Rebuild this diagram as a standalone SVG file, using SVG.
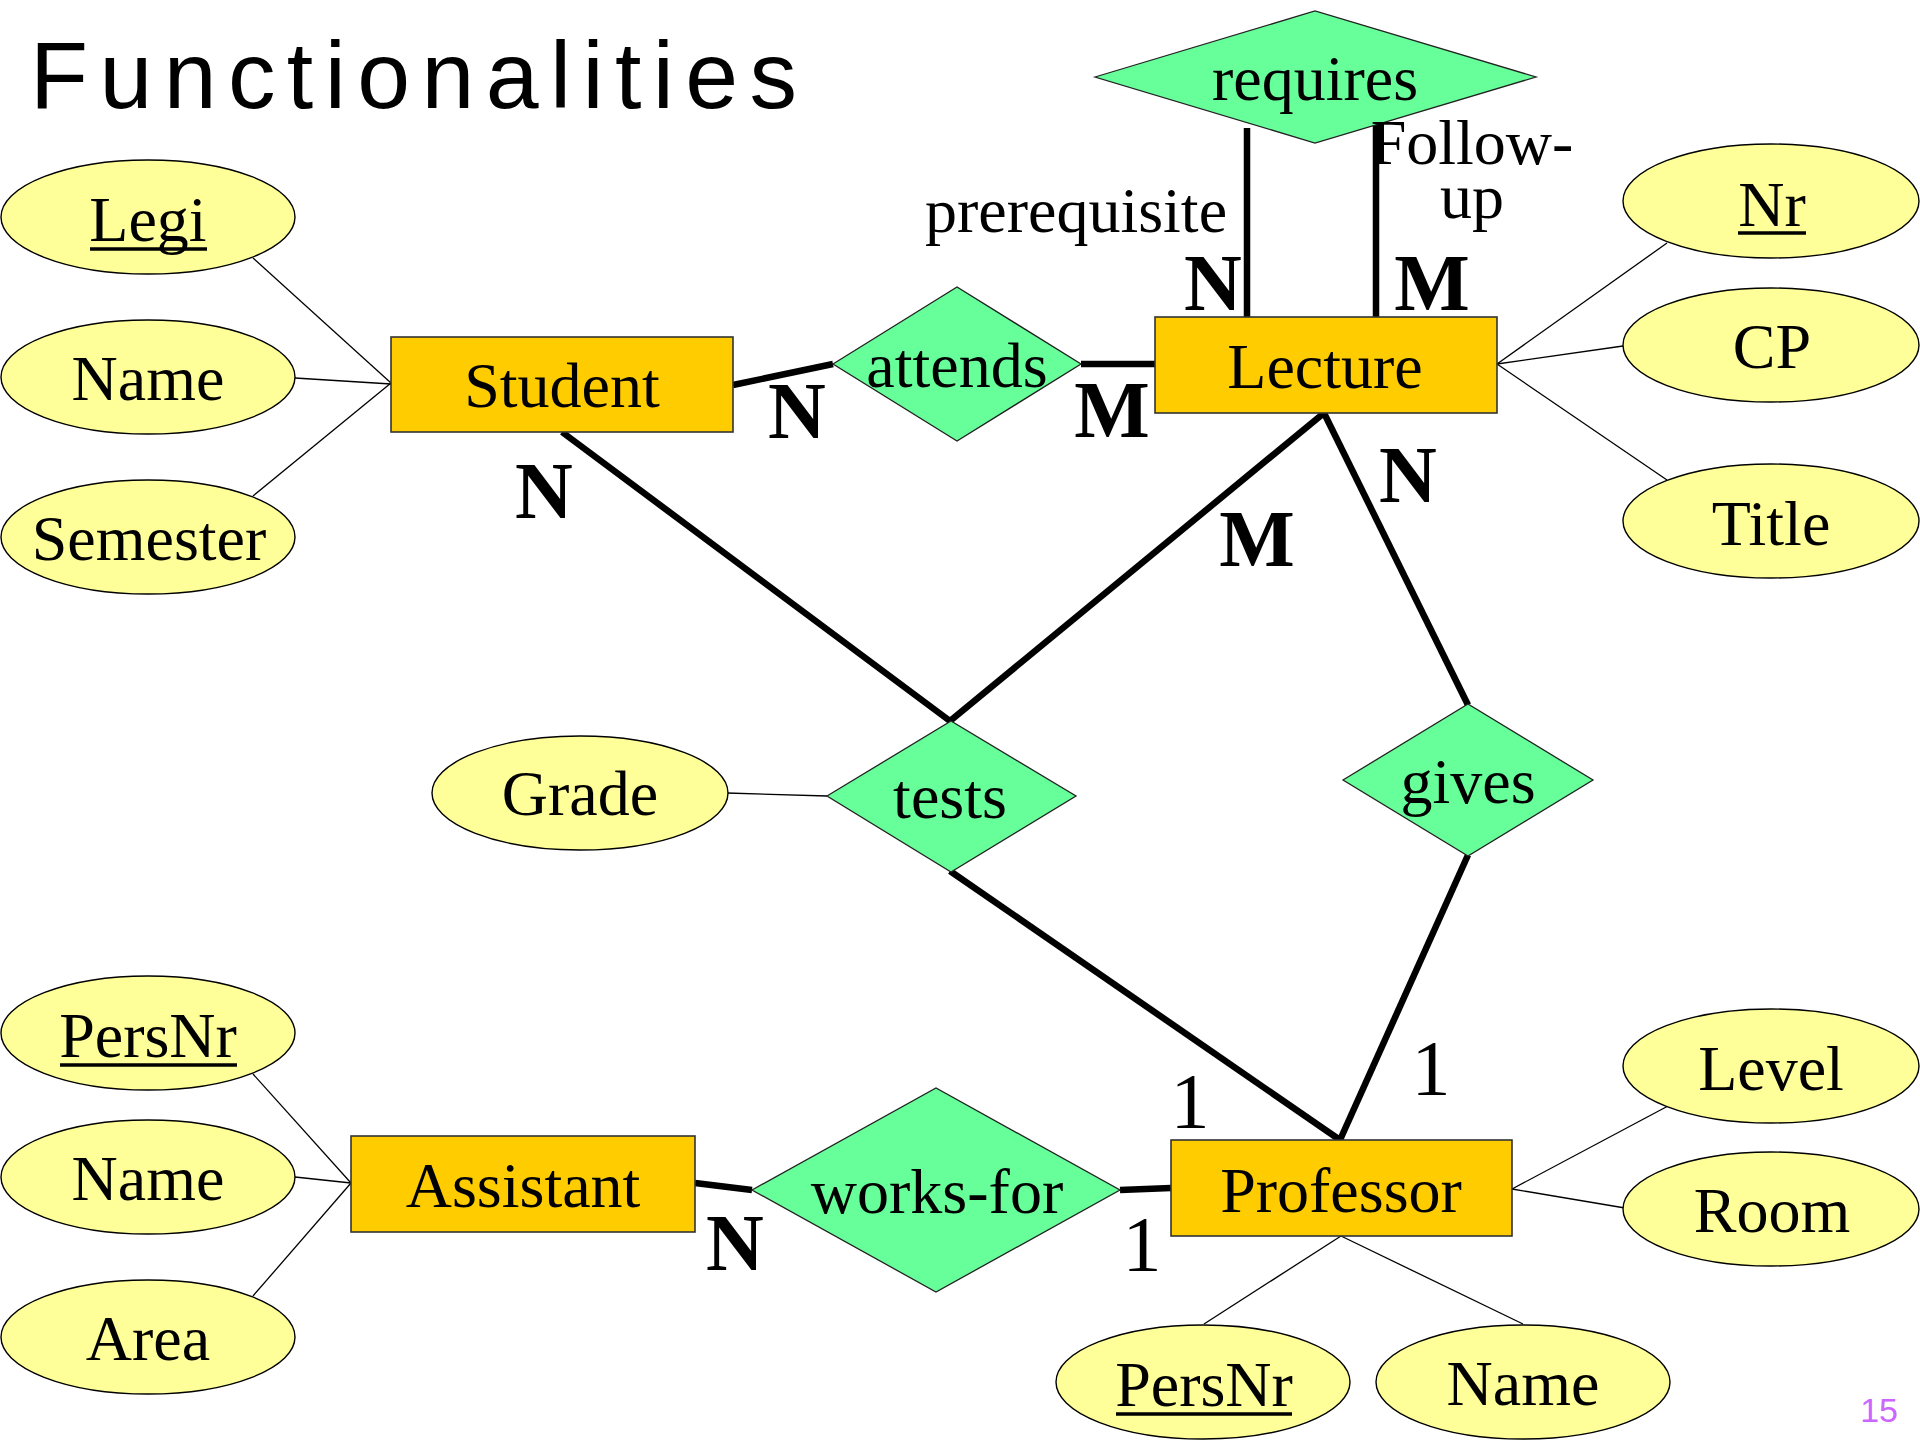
<svg xmlns="http://www.w3.org/2000/svg" width="1920" height="1440" viewBox="0 0 1920 1440">
<style>
.ent{fill:#FFCC00;stroke:#333;stroke-width:1.6}
.att{fill:#FFFF99;stroke:#000;stroke-width:1.4}
.rel{fill:#66FF99;stroke:#222;stroke-width:1.3}
.t{font-family:"Liberation Serif","Times New Roman",serif;font-size:64px;fill:#000;text-anchor:middle}
.c{font-family:"Liberation Serif","Times New Roman",serif;font-size:80px;font-weight:bold;fill:#000;text-anchor:middle}
.one{font-family:"Liberation Serif","Times New Roman",serif;font-size:78px;fill:#000;text-anchor:middle}
.thin{stroke:#000;stroke-width:1.3;fill:none}
.thick{stroke:#000;stroke-width:6.5;fill:none}
.ul{stroke:#000;stroke-width:3.5}
</style>
<rect width="1920" height="1440" fill="#fff"/>
<text x="30" y="108" font-family="Liberation Sans, Arial, sans-serif" font-size="95" textLength="767" lengthAdjust="spacing" fill="#000">Functionalities</text>

<g id="connectors">
  <line class="thin" x1="253" y1="258" x2="391" y2="383"/>
  <line class="thin" x1="295" y1="378" x2="391" y2="384"/>
  <line class="thin" x1="253" y1="496" x2="391" y2="383"/>
  <line class="thin" x1="1497" y1="364" x2="1667" y2="243"/>
  <line class="thin" x1="1497" y1="364" x2="1623" y2="346"/>
  <line class="thin" x1="1497" y1="364" x2="1667" y2="480"/>
  <line class="thin" x1="253" y1="1074" x2="351" y2="1183"/>
  <line class="thin" x1="295" y1="1177" x2="351" y2="1183"/>
  <line class="thin" x1="253" y1="1296" x2="351" y2="1183"/>
  <line class="thin" x1="1512" y1="1189" x2="1668" y2="1106"/>
  <line class="thin" x1="1512" y1="1189" x2="1625" y2="1208"/>
  <line class="thin" x1="1341" y1="1236" x2="1204" y2="1324"/>
  <line class="thin" x1="1341" y1="1236" x2="1523" y2="1324"/>
  <line class="thin" x1="727" y1="793" x2="827" y2="796"/>
  <line class="thick" x1="733" y1="385" x2="833" y2="364"/>
  <line class="thick" x1="1081" y1="364" x2="1155" y2="364"/>
  <line class="thick" x1="1247" y1="128" x2="1247" y2="319"/>
  <line class="thick" x1="1376" y1="123" x2="1376" y2="319"/>
  <line class="thick" x1="562" y1="432" x2="950" y2="721"/>
  <line class="thick" x1="1324" y1="413" x2="950" y2="721"/>
  <line class="thick" x1="1324" y1="413" x2="1468" y2="705"/>
  <line class="thick" x1="950" y1="871" x2="1340" y2="1140"/>
  <line class="thick" x1="1468" y1="855" x2="1340" y2="1140"/>
  <line class="thick" x1="695" y1="1183" x2="752" y2="1190"/>
  <line class="thick" x1="1120" y1="1190" x2="1171" y2="1188"/>
</g>

<g id="student"><rect class="ent" x="391" y="337" width="342" height="95"/><text class="t" x="562" y="407">Student</text></g>
<g id="lecture"><rect class="ent" x="1155" y="317" width="342" height="96"/><text class="t" x="1325" y="388">Lecture</text></g>
<g id="assistant"><rect class="ent" x="351" y="1136" width="344" height="96"/><text class="t" x="523" y="1207">Assistant</text></g>
<g id="professor"><rect class="ent" x="1171" y="1140" width="341" height="96"/><text class="t" x="1341" y="1212">Professor</text></g>

<g id="requires"><polygon class="rel" points="1095,77 1315,11 1536,77 1315,143"/><text class="t" x="1315" y="100">requires</text></g>
<g id="attends"><polygon class="rel" points="833,364 957,287 1081,364 957,441"/><text class="t" x="957" y="387">attends</text></g>
<g id="tests"><polygon class="rel" points="827,796 951,721 1076,796 951,872"/><text class="t" x="950" y="818">tests</text></g>
<g id="gives"><polygon class="rel" points="1343,780 1468,704 1593,780 1468,856"/><text class="t" x="1468" y="803">gives</text></g>
<g id="works-for"><polygon class="rel" points="752,1190 936,1088 1120,1190 936,1292"/><text class="t" x="937" y="1213">works-for</text></g>

<g id="legi"><ellipse class="att" cx="148" cy="217" rx="147" ry="57"/><text class="t" x="148" y="241">Legi</text><line class="ul" x1="90" y1="249" x2="207" y2="249"/></g>
<g id="student-name"><ellipse class="att" cx="148" cy="377" rx="147" ry="57"/><text class="t" x="148" y="400">Name</text></g>
<g id="semester"><ellipse class="att" cx="148" cy="537" rx="147" ry="57"/><text class="t" x="149" y="560">Semester</text></g>

<g id="nr"><ellipse class="att" cx="1771" cy="201" rx="148" ry="57"/><text class="t" x="1772" y="226">Nr</text><line class="ul" x1="1738" y1="233" x2="1806" y2="233"/></g>
<g id="cp"><ellipse class="att" cx="1771" cy="345" rx="148" ry="57"/><text class="t" x="1772" y="368">CP</text></g>
<g id="title"><ellipse class="att" cx="1771" cy="521" rx="148" ry="57"/><text class="t" x="1771" y="545">Title</text></g>

<g id="grade"><ellipse class="att" cx="580" cy="793" rx="148" ry="57"/><text class="t" x="580" y="815">Grade</text></g>

<g id="asst-persnr"><ellipse class="att" cx="148" cy="1033" rx="147" ry="57"/><text class="t" x="148" y="1057">PersNr</text><line class="ul" x1="60" y1="1065" x2="237" y2="1065"/></g>
<g id="asst-name"><ellipse class="att" cx="148" cy="1177" rx="147" ry="57"/><text class="t" x="148" y="1200">Name</text></g>
<g id="area"><ellipse class="att" cx="148" cy="1337" rx="147" ry="57"/><text class="t" x="148" y="1360">Area</text></g>

<g id="level"><ellipse class="att" cx="1771" cy="1066" rx="148" ry="57"/><text class="t" x="1771" y="1090">Level</text></g>
<g id="room"><ellipse class="att" cx="1771" cy="1209" rx="148" ry="57"/><text class="t" x="1772" y="1232">Room</text></g>
<g id="prof-persnr"><ellipse class="att" cx="1203" cy="1382" rx="147" ry="57"/><text class="t" x="1204" y="1406">PersNr</text><line class="ul" x1="1116" y1="1414" x2="1292" y2="1414"/></g>
<g id="prof-name"><ellipse class="att" cx="1523" cy="1382" rx="147" ry="57"/><text class="t" x="1523" y="1405">Name</text></g>

<g id="labels">
  <text class="t" x="1076" y="232">prerequisite</text>
  <text class="t" x="1472" y="164">Follow-</text>
  <text class="t" x="1472" y="218">up</text>
  <text class="c" x="544" y="518">N</text>
  <text class="c" x="797" y="438">N</text>
  <text class="c" x="1112" y="437">M</text>
  <text class="c" x="1213" y="310">N</text>
  <text class="c" x="1432" y="310">M</text>
  <text class="c" x="1408" y="502">N</text>
  <text class="c" x="1257" y="566">M</text>
  <text class="c" x="735" y="1270">N</text>
  <text class="one" x="1190" y="1127">1</text>
  <text class="one" x="1431" y="1094">1</text>
  <text class="one" x="1142" y="1270">1</text>
</g>
<text x="1898" y="1422" font-family="Liberation Sans, Arial, sans-serif" font-size="34" fill="#CC66FF" text-anchor="end">15</text>
</svg>
